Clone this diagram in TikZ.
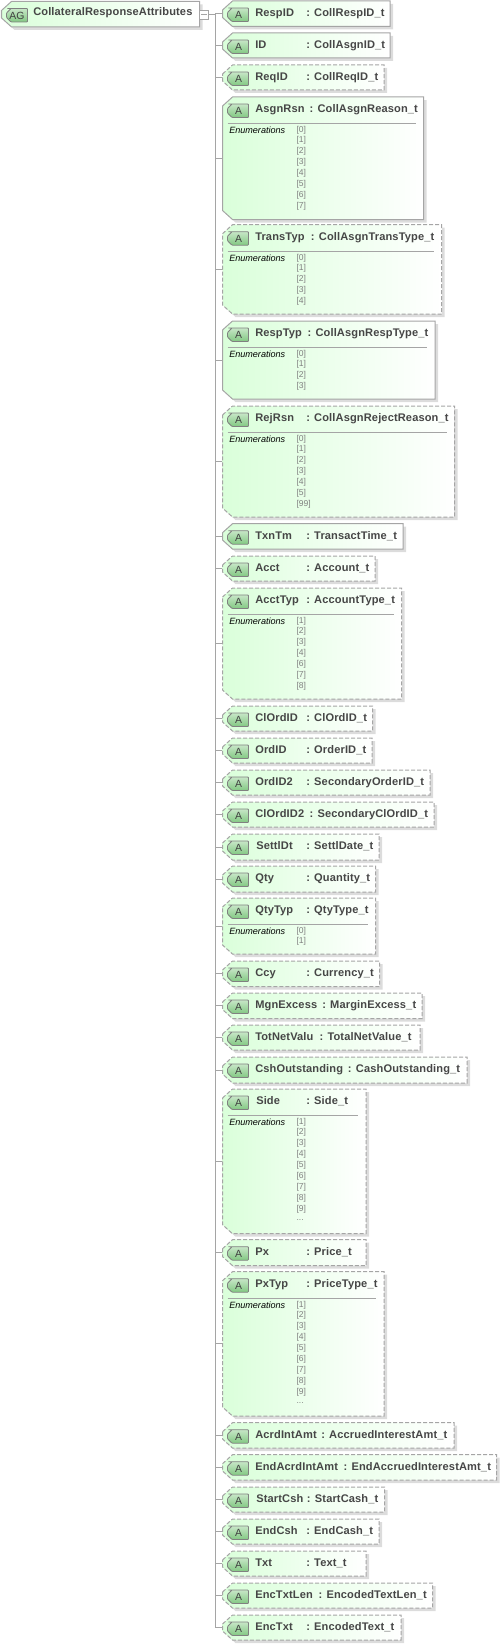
\documentclass[tikz,border=0pt]{standalone}
\usepackage{fontspec}
\setmainfont{Liberation Sans}
\newfontfamily\attrfont[LetterSpace=1.2]{Liberation Sans}
\usetikzlibrary{shadows}
\definecolor{cmint}{RGB}{218,255,218}
\definecolor{cedge}{RGB}{165,165,165}
\definecolor{cshade}{RGB}{220,220,220}
\definecolor{cbadge}{RGB}{130,200,130}
\definecolor{cink}{RGB}{70,70,70}
\def\pxu{0.75pt}
\newcommand{\boxoutline}[2][]{\draw[compbox,#1] ([yshift=-6.75pt]#2.north west) -- ([xshift=7.5pt]#2.north west)
    -- (#2.north east) -- (#2.south east) -- ([xshift=7.5pt]#2.south west) -- ([yshift=6.75pt]#2.south west) -- cycle;}
\newcommand{\badgeoutline}[2]{\draw[badge] (#1,#2+7) -- (#1+21,#2+7) -- (#1+21,#2+20.5) -- (#1+4.5,#2+20.5)
    -- (#1,#2+16) -- (#1,#2+11.5) -- (#1+4.5,#2+7) -- cycle;}
\tikzset{xsdtree/.style={x=0.75pt,y=-0.75pt},
  spot/.style={rectangle,inner sep=0pt,outer sep=0pt,anchor=west},
  compbox/.style={draw=cedge,line width=0.75pt,left color=cmint,middle color=cmint!30!white,right color=white,
    drop shadow={shadow xshift=2.25pt,shadow yshift=-2.25pt,opacity=1,fill=cshade}},
  optional/.style={dash pattern=on 3pt off 1.5pt},
  required/.style={solid},
  badge/.style={draw=black!50,line width=0.6pt,rounded corners=0.6pt,top color=cbadge!45!white,middle color=white,bottom color=cbadge},
  badgetext/.style={inner sep=0pt,text=black!75,font=\fontsize{7.8}{9}\selectfont},
  attrtext/.style={inner sep=0pt,anchor=base west,text=cink,font=\attrfont\bfseries\fontsize{8.3}{10}\selectfont},
  enumtext/.style={inner sep=0pt,anchor=west,font=\itshape\fontsize{6.8}{8}\selectfont},
  valtext/.style={inner sep=0pt,anchor=west,text=black!50,font=\fontsize{6.4}{8}\selectfont},
  treeline/.style={draw=cedge,line width=0.75pt}}
\begin{document}
\begin{tikzpicture}[xsdtree]
    \useasboundingbox (0,0) rectangle (501,1645);
    \node[spot,minimum width=198*\pxu,minimum height=25.5*\pxu] (root) at (1.5,14.2) {};
    \boxoutline[required]{root}
    \badgeoutline{6.5}{1.5}
    \node[badgetext] (rootbadge) at (17,15.5) {AG};
    \node[attrtext] (rootname) at (33,16) {CollateralResponseAttributes};
    \node[draw=cedge,fill=white,minimum size=9.5*\pxu,inner sep=0pt,outer sep=0pt] (collapse) at (204,14.7) {};
    \draw[treeline] ([xshift=-2.2pt]collapse.center) -- ([xshift=2.2pt]collapse.center);
    \coordinate (spine) at (215.7,14.7);
    \draw[treeline] (collapse.east) -- (spine);
    \foreach \id/\top/\bot/\rgt/\kind/\nm/\nx/\cx/\ty in {
      respid/1/26.5/390/required/RespID/255/306/CollRespID,
      id/33/58/390/required/ID/255/306/CollAsgnID,
      reqid/65/90/384/optional/ReqID/255/306/CollReqID,
      asgnrsn/97/219.5/423.5/required/AsgnRsn/255/309.3/CollAsgnReason,
      transtyp/224.7/314/441.7/optional/TransTyp/255/310.7/CollAsgnTransType,
      resptyp/321/399/435/required/RespTyp/255/307.3/CollAsgnRespType,
      rejrsn/406/517/454.7/optional/RejRsn/255/306/CollAsgnRejectReason,
      txntm/523.7/549/403/required/TxnTm/255/306/TransactTime,
      acct/556/581/375/optional/Acct/255/306/Account,
      accttyp/588/699/401.7/optional/AcctTyp/255/306/AccountType,
      clordid/706/731/372.7/optional/ClOrdID/255/306/ClOrdID,
      ordid/738/763/372/optional/OrdID/255/306/OrderID,
      ordid2/770/795/430/optional/OrdID2/255/306/SecondaryOrderID,
      clordid2/802/827/434/optional/ClOrdID2/255/309.3/SecondaryClOrdID,
      settldt/834/860/379/optional/SettlDt/256/306/SettlDate,
      qty/866/892/375.7/optional/Qty/255/306/Quantity,
      qtytyp/898/954/375.7/optional/QtyTyp/255/306/QtyType,
      ccy/961/986.5/379.5/optional/Ccy/255/306/Currency,
      mgnexcess/993/1018.5/422/optional/MgnExcess/255/322/MarginExcess,
      totnetvalu/1025/1050/420/optional/TotNetValu/255/319.3/TotalNetValue,
      cshout/1057/1083/467/optional/CshOutstanding/255/347.7/CashOutstanding,
      side/1089/1233.7/366/optional/Side/256/306/Side,
      px/1239.7/1265.6/366/optional/Px/255/306/Price,
      pxtyp/1271.7/1416/384/optional/PxTyp/255/306/PriceType,
      acrdintamt/1422.7/1448/454/optional/AcrdIntAmt/255/321/AccruedInterestAmt,
      endacrd/1454.7/1480/496.7/optional/EndAcrdIntAmt/255/343.3/EndAccruedInterestAmt,
      startcsh/1487/1512/384.7/optional/StartCsh/256/306.7/StartCash,
      endcsh/1519/1544/379/optional/EndCsh/255/306/EndCash,
      txt/1551/1576/366/optional/Txt/255/306/Text,
      enctxtlen/1583/1608/432.7/optional/EncTxtLen/255/318.3/EncodedTextLen,
      enctxt/1615/1640/401/optional/EncTxt/255/306/EncodedText} {
      \pgfmathsetmacro\mid{(\top+\bot)/2}
      \node[spot,minimum width={(\rgt-222.5)*\pxu},minimum height={(\bot-\top)*\pxu}] (\id) at (222.5,\mid) {};
      \draw[treeline] (spine) |- (\id.west);
      \boxoutline[\kind]{\id}
      \badgeoutline{227.5}{\top}
      \node[badgetext] (\id-badge) at (238.5,\top+14) {A};
      \node[attrtext] (\id-name) at (\nx,\top+15.3) {\nm};
      \node[attrtext] (\id-type) at (\cx,\top+15.3) {: \ty\_t};
    }
    \foreach \id/\vals in {asgnrsn/{0,1,2,3,4,5,6,7},transtyp/{0,1,2,3,4},resptyp/{0,1,2,3},
      rejrsn/{0,1,2,3,4,5,99},accttyp/{1,2,3,4,6,7,8},qtytyp/{0,1},
      side/{1,2,3,4,5,6,7,8,9},pxtyp/{1,2,3,4,5,6,7,8,9}} {
      \draw[treeline] ([shift={(5,26.4)}]\id.north west) -- ([shift={(-7.6,26.4)}]\id.north east);
      \node[enumtext] (\id-enum) at ([shift={(6.5,33.5)}]\id.north west) {Enumerations};
      \foreach \v [count=\i] in \vals {
        \pgfmathsetmacro\ry{\i==1 ? 33.5 : 43.5+11*(\i-2)}
        \node[valtext] (\id-\i) at ([shift={(73.8,\ry)}]\id.north west) {[\v]};
      }
    }
    \node[valtext] (side-dots) at ([shift={(73.8,131)}]side.north west) {...};
    \node[valtext] (pxtyp-dots) at ([shift={(73.8,131)}]pxtyp.north west) {...};
  \end{tikzpicture}
\end{document}
